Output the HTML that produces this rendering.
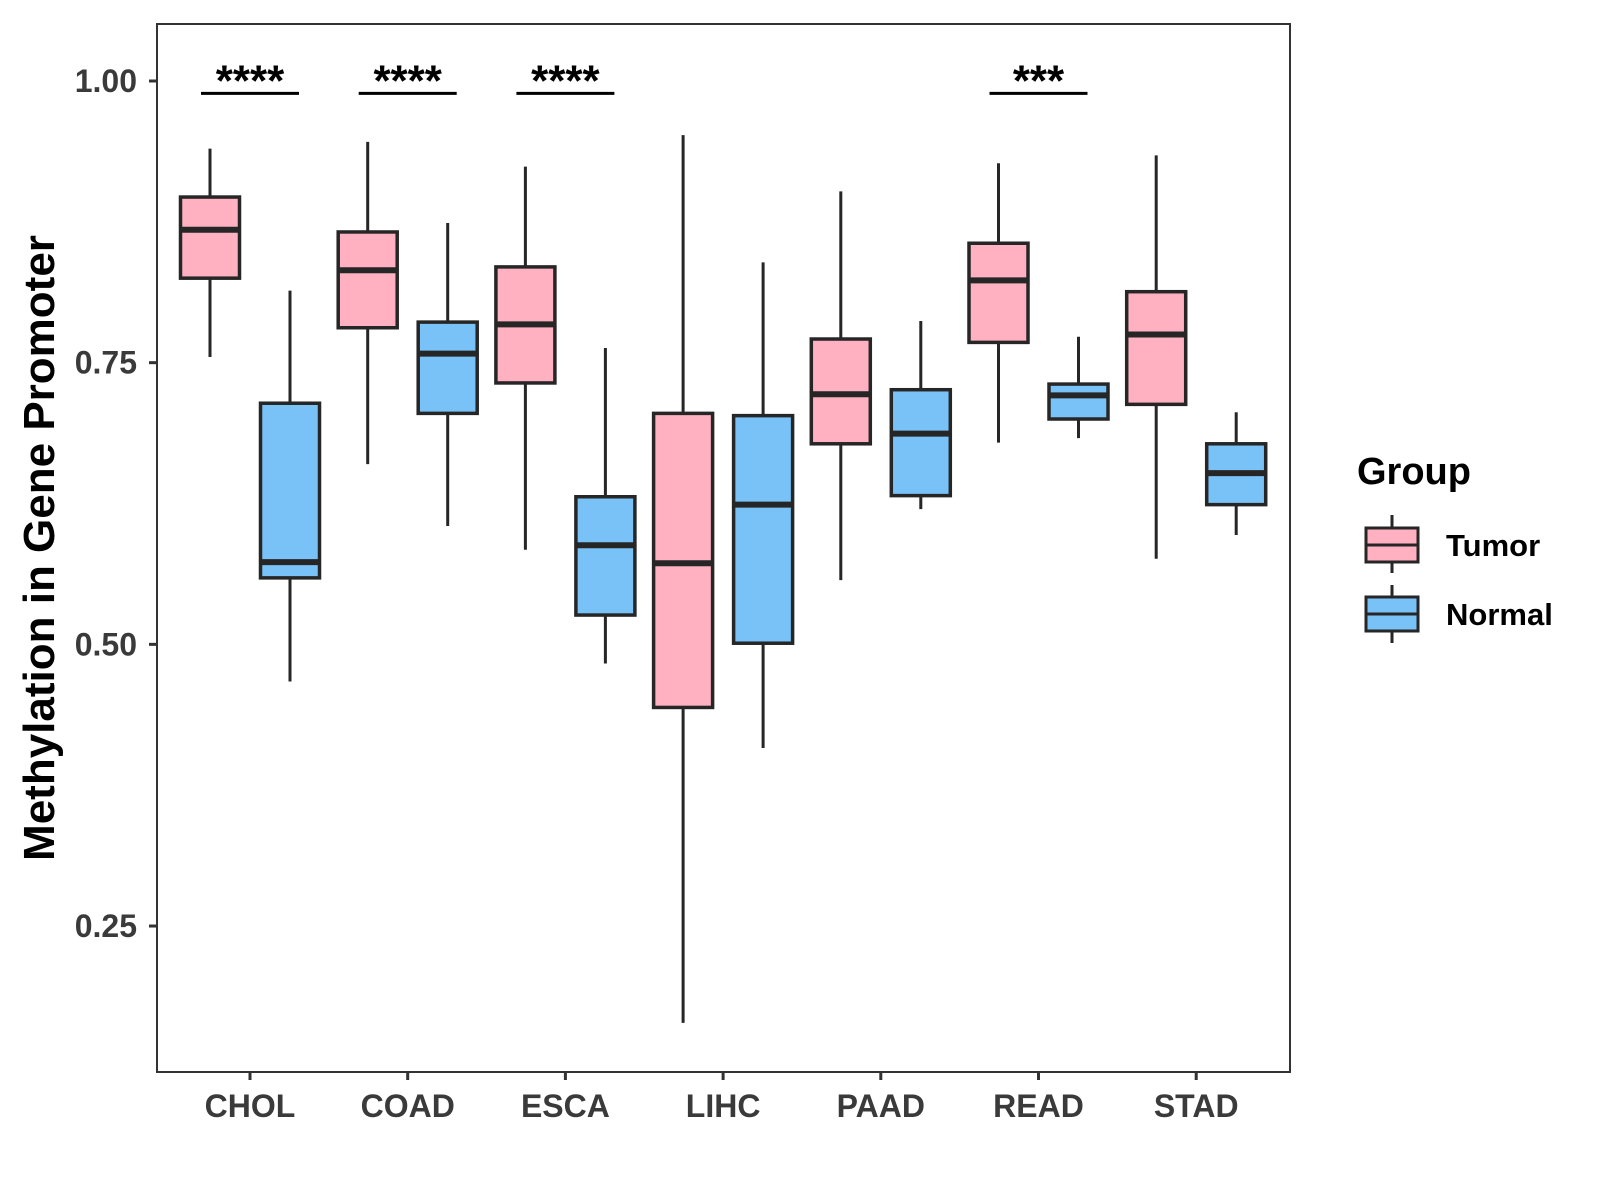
<!DOCTYPE html>
<html><head><meta charset="utf-8"><style>
body{margin:0;background:#fff}
svg{display:block;font-family:"Liberation Sans",Arial,sans-serif;font-weight:bold}
</style></head><body>
<svg id="chart" width="1600" height="1200">
<rect x="157" y="24" width="1133" height="1048" fill="#fff" stroke="#333" stroke-width="2"/>
<g id="marks"></g>
<text transform="translate(54,548) rotate(-90)" text-anchor="middle" font-size="44" fill="#000">Methylation in Gene Promoter</text>
<g>
<text x="1357" y="484" font-size="38" fill="#000">Group</text>
<g>
<line x1="1392" y1="515" x2="1392" y2="573" stroke="#262626" stroke-width="3"/>
<rect x="1366" y="528" width="52" height="34" fill="#FFB0C1" stroke="#262626" stroke-width="3"/>
<line x1="1366" y1="545" x2="1418" y2="545" stroke="#262626" stroke-width="3"/>
<text x="1446" y="556" font-size="31" fill="#000">Tumor</text></g>
<g>
<line x1="1392" y1="585" x2="1392" y2="643" stroke="#262626" stroke-width="3"/>
<rect x="1366" y="597" width="52" height="34" fill="#79C2F8" stroke="#262626" stroke-width="3"/>
<line x1="1366" y1="614" x2="1418" y2="614" stroke="#262626" stroke-width="3"/>
<text x="1446" y="625" font-size="31" fill="#000">Normal</text></g>
</g>
</svg>
<script>
const categories=["CHOL","COAD","ESCA","LIHC","PAAD","READ","STAD"];
// [lowerWhisker, Q1, median, Q3, upperWhisker]
const tumorStats=[[0.755,0.825,0.868,0.897,0.940],[0.660,0.781,0.832,0.866,0.946],[0.584,0.732,0.784,0.835,0.924],[0.164,0.444,0.572,0.705,0.952],[0.557,0.678,0.722,0.771,0.902],[0.679,0.768,0.823,0.856,0.927],[0.576,0.713,0.775,0.813,0.934]];
const normalStats=[[0.467,0.559,0.573,0.714,0.814],[0.605,0.705,0.758,0.786,0.874],[0.483,0.526,0.588,0.631,0.763],[0.408,0.501,0.624,0.703,0.839],[0.620,0.632,0.687,0.726,0.787],[0.683,0.700,0.721,0.731,0.773],[0.597,0.624,0.652,0.678,0.706]];
const yTicks=[0.25,0.50,0.75,1.00];
const yTickLabels=["0.25","0.50","0.75","1.00"];
const sigCats=["CHOL","COAD","ESCA","READ"];
const sigLabels=["****","****","****","***"];
const sigLevel=0.989;

const NS="http://www.w3.org/2000/svg";
const g=document.getElementById("marks");
function y(v){return 81+(1-v)*1126.7;}
function x(i){return 250+i*157.7;}
function mk(t,a,p){const e=document.createElementNS(NS,t);for(const k in a)e.setAttribute(k,a[k]);(p||g).appendChild(e);return e;}
yTicks.forEach((v,i)=>{
 const l=mk("line",{x1:149,x2:157,y1:y(v),y2:y(v),stroke:"#333","stroke-width":3});
 
 
 const t=mk("text",{x:137,y:y(v)+11,"text-anchor":"end","font-size":32,fill:"#3a3a3a"});
 t.textContent=yTickLabels[i];
 
 
});
categories.forEach((c,i)=>{
 const l=mk("line",{x1:x(i),x2:x(i),y1:1072,y2:1080,stroke:"#333","stroke-width":3});
 
 
 const t=mk("text",{x:x(i),y:1117,"text-anchor":"middle","font-size":32,fill:"#3a3a3a"});
 t.textContent=c;
 
 
});
function box(cx,s,fill,name){
 const grp=mk("g",{});
 
 
 mk("line",{x1:cx,x2:cx,y1:y(s[0]),y2:y(s[4]),stroke:"#262626","stroke-width":3},grp);
 mk("rect",{x:cx-29.5,y:y(s[3]),width:59,height:y(s[1])-y(s[3]),fill:fill,stroke:"#262626","stroke-width":3.5},grp);
 mk("line",{x1:cx-29.5,x2:cx+29.5,y1:y(s[2]),y2:y(s[2]),stroke:"#262626","stroke-width":6},grp);
}
categories.forEach((c,i)=>{
 box(x(i)-40,tumorStats[i],"#FFB0C1","box-tumor-"+c.toLowerCase());
 box(x(i)+40,normalStats[i],"#79C2F8","box-normal-"+c.toLowerCase());
});
sigCats.forEach((c,k)=>{
 const i=categories.indexOf(c);
 const l=mk("line",{x1:x(i)-49,x2:x(i)+49,y1:y(sigLevel),y2:y(sigLevel),stroke:"#000","stroke-width":3});
 
 
 const t=mk("text",{x:x(i),y:y(sigLevel)+2,"text-anchor":"middle","font-size":44,fill:"#000"});
 t.textContent=sigLabels[k];
 
 
});
</script>
</body></html>
